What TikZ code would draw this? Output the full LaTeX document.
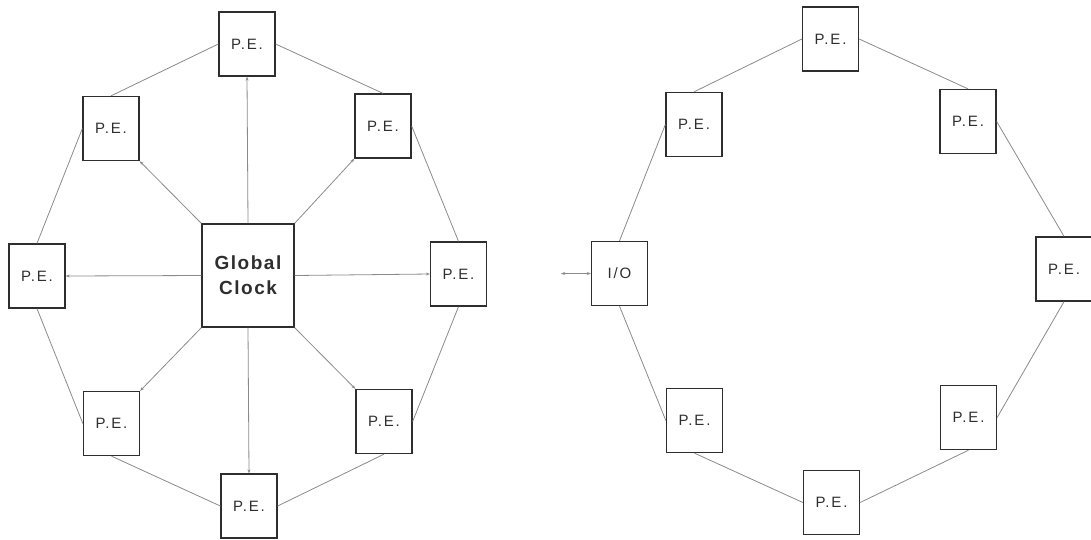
\documentclass[tikz,border=0pt]{standalone}
\usepackage{fontspec}
\setmainfont{Liberation Sans}
\newfontfamily\pefont[LetterSpace=12]{Liberation Sans}
\newfontfamily\clockfont[LetterSpace=8]{Liberation Sans}
\usetikzlibrary{arrows.meta}
\definecolor{boxc}{HTML}{2E2E2E}
\definecolor{linec}{HTML}{8A8A8A}
\tikzset{
  pebox/.style={draw=boxc, line width=1.3pt, minimum width=56pt, minimum height=64pt,
    inner sep=0pt, text=boxc, font=\pefont\fontsize{15pt}{17pt}\selectfont},
  clockbox/.style={draw=boxc, line width=1.3pt, minimum width=92pt, minimum height=103pt,
    inner sep=0pt, text=boxc, align=center, font=\clockfont\bfseries\fontsize{19pt}{25pt}\selectfont},
  ring/.style={draw=linec, line width=0.8pt},
  clk/.style={draw=linec, line width=0.8pt, -{Stealth[length=4pt,width=3pt]}},
  iolink/.style={draw=linec, line width=0.8pt, {Stealth[length=4pt,width=3pt]}-{Stealth[length=4pt,width=3pt]}}
}
\begin{document}
\begin{tikzpicture}[x=1pt,y=-1pt]
\useasboundingbox (0,0) rectangle (1091,539);
% left diagram
\node[clockbox] (clock) at (248,275.5) {Global\\Clock};
\node[pebox] (tL)  at (247,44) {P.E.};
\node[pebox] (ulL) at (111,128.5) {P.E.};
\node[pebox] (urL) at (383,126) {P.E.};
\node[pebox] (lL)  at (37,276) {P.E.};
\node[pebox] (rL)  at (458.5,274) {P.E.};
\node[pebox] (llL) at (111.5,423.5) {P.E.};
\node[pebox] (lrL) at (384,421.5) {P.E.};
\node[pebox] (bL)  at (249,506) {P.E.};
% ring left
\draw[ring] (tL.west) -- (ulL.north);
\draw[ring] (ulL.west) -- (lL.north);
\draw[ring] (lL.south) -- (llL.west);
\draw[ring] (llL.south) -- (bL.west);
\draw[ring] (bL.east) -- (lrL.south);
\draw[ring] (lrL.east) -- (rL.south);
\draw[ring] (rL.north) -- (urL.east);
\draw[ring] (urL.north) -- (tL.east);
% clock arrows
\draw[clk] (clock.north) -- (tL.south);
\draw[clk] (clock.north west) -- (ulL.south east);
\draw[clk] (clock.north east) -- (urL.south west);
\draw[clk] (clock.west) -- (lL.east);
\draw[clk] (clock.east) -- (rL.west);
\draw[clk] (clock.south west) -- (llL.north east);
\draw[clk] (clock.south east) -- (lrL.north west);
\draw[clk] (clock.south) -- (bL.north);
% right diagram
\node[pebox] (io)  at (619.5,273.5) {I/O};
\node[pebox] (tR)  at (830.5,39) {P.E.};
\node[pebox] (ulR) at (694,124.5) {P.E.};
\node[pebox] (urR) at (968,121.5) {P.E.};
\node[pebox] (rR)  at (1064,269) {P.E.};
\node[pebox] (llR) at (694.5,420.5) {P.E.};
\node[pebox] (lrR) at (968.5,417.5) {P.E.};
\node[pebox] (bR)  at (831.5,502.5) {P.E.};
\draw[ring] (tR.west) -- (ulR.north);
\draw[ring] (ulR.west) -- (io.north);
\draw[ring] (io.south) -- (llR.west);
\draw[ring] (llR.south) -- (bR.west);
\draw[ring] (bR.east) -- (lrR.south);
\draw[ring] (lrR.east) -- (rR.south);
\draw[ring] (rR.north) -- (urR.east);
\draw[ring] (urR.north) -- (tR.east);
\coordinate (ioext) at (561,273.5);
\draw[iolink] (ioext) -- (io.west);
\end{tikzpicture}
\end{document}
